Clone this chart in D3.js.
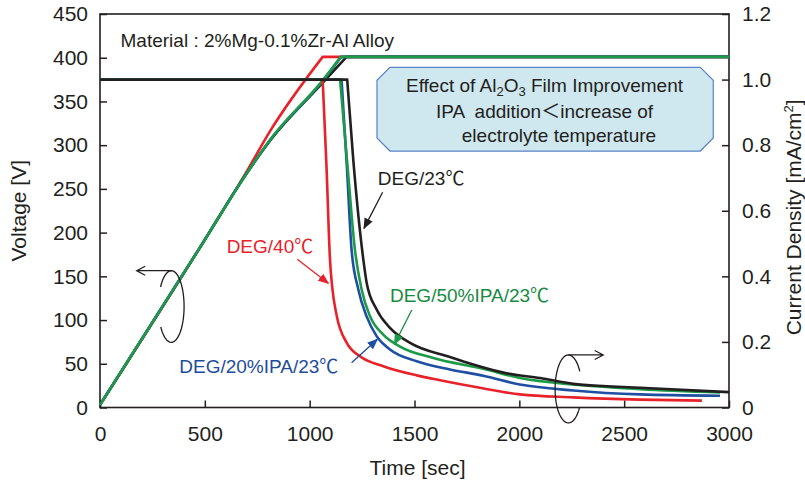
<!DOCTYPE html>
<meta charset="utf-8">
<html>
<head>
<title>Voltage and current density vs time</title>
<style>
  body { margin: 0; background: #fff; }
  text { font-family: "Liberation Sans", Arial, "Noto Sans CJK JP", sans-serif; fill: #231f20; }
</style>
</head>
<body>
<div id="chart"></div>

<script src="https://cdn.jsdelivr.net/npm/d3@7"></script>
<script>

// ---- values ----
var timeTicks = [0, 500, 1000, 1500, 2000, 2500, 3000];
var voltTicks = [0, 50, 100, 150, 200, 250, 300, 350, 400, 450];
var currTicks = [0, 0.2, 0.4, 0.6, 0.8, 1.0, 1.2];
var currTickLabels = ["0", "0.2", "0.4", "0.6", "0.8", "1.0", "1.2"];

// voltage [V] (left axis)
var voltRedT   = [0, 469, 700, 811, 1062, 3000];
var voltRedV   = [3, 180, 270, 316, 401, 401];
var voltBlackT = [0, 469, 700, 811, 1065, 1176, 3000];
var voltBlackV = [3, 180, 268, 305, 372, 401, 401];
var voltBlueT  = [0, 469, 700, 811, 1065, 1150, 3000];
var voltBlueV  = [3, 180, 268, 306, 374, 401, 401];
var voltGreenT = [0, 469, 700, 811, 1065, 1148, 3000];
var voltGreenV = [3, 180, 268, 306, 375, 401, 401];

// current density [mA/cm2] (right axis)
var currRedT   = [0, 1062, 1080, 1097, 1107, 1129, 1177, 1240, 1351, 1510, 1622, 1812, 2003, 2256, 2575, 2871];
var currRedI   = [1.0, 1.0, 0.74, 0.45, 0.37, 0.28, 0.197, 0.156, 0.126, 0.098, 0.083, 0.060, 0.040, 0.031, 0.024, 0.021];
var currBlueT  = [0, 1152, 1177, 1200, 1232, 1272, 1320, 1383, 1510, 1669, 1828, 2003, 2257, 2575, 2957];
var currBlueI  = [1.0, 1.0, 0.74, 0.48, 0.36, 0.277, 0.217, 0.177, 0.141, 0.116, 0.097, 0.070, 0.052, 0.040, 0.036];
var currGreenT = [0, 1145, 1180, 1216, 1248, 1288, 1351, 1431, 1590, 1828, 2003, 2257, 2575, 2957];
var currGreenI = [1.0, 1.0, 0.74, 0.48, 0.359, 0.278, 0.222, 0.186, 0.151, 0.118, 0.090, 0.070, 0.056, 0.046];
var currBlackT = [0, 1179, 1208, 1256, 1272, 1320, 1383, 1479, 1669, 1780, 1940, 2099, 2257, 2417, 2575, 3000];
var currBlackI = [1.0, 1.0, 0.755, 0.451, 0.38, 0.298, 0.243, 0.197, 0.154, 0.131, 0.104, 0.090, 0.072, 0.065, 0.060, 0.047];

var RED = "#e8222a", GREEN = "#1b9a48", BLUE = "#1f4fa2", BLACK = "#231f20";

var voltSeries = [
  {t: voltRedT, v: voltRedV, color: RED},
  {t: voltBlackT, v: voltBlackV, color: BLACK},
  {t: voltBlueT, v: voltBlueV, color: BLUE},
  {t: voltGreenT, v: voltGreenV, color: GREEN}
];
var currSeries = [
  {t: currRedT, v: currRedI, color: RED},
  {t: currBlueT, v: currBlueI, color: BLUE},
  {t: currGreenT, v: currGreenI, color: GREEN},
  {t: currBlackT, v: currBlackI, color: BLACK}
];

var width = 805, height = 484;

var svg = d3.select("#chart")
  .append("svg")
  .attr("width", width)
  .attr("height", height);

var x = d3.scaleLinear().domain([0, 3000]).range([100, 729]);
var yV = d3.scaleLinear().domain([0, 450]).range([407.5, 14]);
var yI = d3.scaleLinear().domain([0, 1.2]).range([407.5, 14]);

function styleAxis(g) {
  g.select(".domain").remove();
  g.selectAll("line").attr("stroke", BLACK).attr("stroke-width", 1.5);
  g.selectAll("text").style("font-size", "21px").attr("fill", BLACK);
}

// axes, ticks pointing inwards
svg.append("g")
  .attr("transform", "translate(" + x(0) + ",0)")
  .call(d3.axisLeft(yV).tickValues(voltTicks).tickSize(-7).tickPadding(12))
  .call(styleAxis);

svg.append("g")
  .attr("transform", "translate(0," + yV(0) + ")")
  .call(d3.axisBottom(x).tickValues(timeTicks).tickSize(-7).tickPadding(19)
        .tickFormat(d3.format("d")))
  .call(styleAxis);

svg.append("g")
  .attr("transform", "translate(" + x(3000) + ",0)")
  .call(d3.axisRight(yI).tickValues(currTicks).tickSize(-7).tickPadding(13)
        .tickFormat(function(d, i) { return currTickLabels[i]; }))
  .call(styleAxis);

svg.append("rect")
  .attr("x", x(0))
  .attr("y", yV(450))
  .attr("width", x(3000) - x(0))
  .attr("height", yV(0) - yV(450))
  .attr("fill", "none")
  .attr("stroke", BLACK)
  .attr("stroke-width", 1.6);

// axis titles
svg.append("text")
  .attr("transform", "translate(26," + yV(225) + ")rotate(-90)")
  .attr("text-anchor", "middle")
  .style("font-size", "21px")
  .text("Voltage [V]");

svg.append("text")
  .attr("x", x(1500) + 3)
  .attr("y", 475)
  .attr("text-anchor", "middle")
  .style("font-size", "21px")
  .text("Time [sec]");

var rt = svg.append("text")
  .attr("transform", "translate(801," + yI(0.58) + ")rotate(-90)")
  .attr("text-anchor", "middle")
  .style("font-size", "21px");
rt.append("tspan").text("Current Density [mA/cm");
rt.append("tspan").attr("dy", -8).style("font-size", "13px").text("2");
rt.append("tspan").attr("dy", 8).text("]");

// curves
var mono = d3.line()
  .x(function(d) { return d[0]; })
  .y(function(d) { return d[1]; })
  .curve(d3.curveMonotoneX);

function pts(s, yScale) {
  return s.t.map(function(t, i) { return [x(t), yScale(s.v[i])]; });
}

// voltage: bending ramp, then flat after the corner
voltSeries.forEach(function(s) {
  var p = pts(s, yV), n = p.length;
  var d = mono(p.slice(0, n - 1)) + "L" + p[n - 1][0] + "," + p[n - 1][1];
  svg.append("path")
    .attr("d", d)
    .attr("fill", "none")
    .attr("stroke", s.color)
    .attr("stroke-width", 2.6)
    .attr("stroke-linejoin", "round");
});

// current: flat at 1.0, then decay
currSeries.forEach(function(s) {
  var p = pts(s, yI);
  var d = "M" + p[0][0] + "," + p[0][1] + "L" + mono(p.slice(1)).slice(1);
  svg.append("path")
    .attr("d", d)
    .attr("fill", "none")
    .attr("stroke", s.color)
    .attr("stroke-width", 2.6)
    .attr("stroke-linejoin", "round");
});

// material label
svg.append("text")
  .attr("x", x(98))
  .attr("y", yV(412.6))
  .style("font-size", "19px")
  .text("Material : 2%Mg-0.1%Zr-Al Alloy");

// note box
var bL = x(1321), bR = x(2925), bT = yV(389), bB = yV(293.3), c = 13;
svg.append("polygon")
  .attr("points", [[bL + c, bT], [bR - c, bT], [bR, bT + c], [bR, bB - c],
                   [bR - c, bB], [bL + c, bB], [bL, bB - c], [bL, bT + c]].join(" "))
  .attr("fill", "#cfe7ee")
  .attr("stroke", "#5a83c3")
  .attr("stroke-width", 1.2);

var l1 = svg.append("text")
  .attr("x", x(2120))
  .attr("y", yV(361.2))
  .attr("text-anchor", "middle")
  .style("font-size", "19px");
l1.append("tspan").text("Effect of Al");
l1.append("tspan").attr("dy", 4).style("font-size", "13px").text("2");
l1.append("tspan").attr("dy", -4).text("O");
l1.append("tspan").attr("dy", 4).style("font-size", "13px").text("3");
l1.append("tspan").attr("dy", -4).text(" Film Improvement");

svg.append("text")
  .attr("x", x(2120))
  .attr("y", yV(330.7))
  .attr("text-anchor", "middle")
  .style("font-size", "19px")
  .style("white-space", "pre")
  .text("IPA  addition＜increase of");

svg.append("text")
  .attr("x", x(2189))
  .attr("y", yV(304))
  .attr("text-anchor", "middle")
  .style("font-size", "19px")
  .text("electrolyte temperature");

// curve labels with arrows
var defs = svg.append("defs");
[["red", RED], ["black", BLACK], ["green", GREEN], ["blue", BLUE]].forEach(function(m) {
  defs.append("marker")
    .attr("id", "head-" + m[0])
    .attr("markerUnits", "userSpaceOnUse")
    .attr("markerWidth", 11)
    .attr("markerHeight", 9)
    .attr("refX", 10)
    .attr("refY", 4.5)
    .attr("orient", "auto")
    .append("path")
    .attr("d", "M0,0L11,4.5L0,9Z")
    .attr("fill", m[1]);
});

var labels = [
  {text: "DEG/23℃", color: BLACK, id: "black", t: 1325, v: 254.4, a: [1348, 246.1, 1259, 204.9]},
  {text: "DEG/40℃", color: RED, id: "red", t: 604, v: 176.3, a: [941, 169.5, 1089, 142]},
  {text: "DEG/50%IPA/23℃", color: "#198a42", id: "green", t: 1383, v: 121, a: [1487, 111.5, 1404, 72.3]},
  {text: "DEG/20%IPA/23℃", color: "#1d4c9c", id: "blue", t: 378, v: 39.1, a: [1200, 51.2, 1323, 78]}
];

labels.forEach(function(l) {
  svg.append("text")
    .attr("x", x(l.t))
    .attr("y", yV(l.v))
    .style("font-size", "19px")
    .style("fill", l.color)
    .text(l.text);
  svg.append("line")
    .attr("x1", x(l.a[0])).attr("y1", yV(l.a[1]))
    .attr("x2", x(l.a[2])).attr("y2", yV(l.a[3]))
    .attr("stroke", l.color)
    .attr("stroke-width", 1.3)
    .attr("marker-end", "url(#head-" + l.id + ")");
});

// rotating-arrow signs pointing to each axis
function rotSign(t, v, rx, ry, a0, a1, tipT) {
  var cx = x(t), cy = yV(v), tip = x(tipT);
  var arc = d3.range(0, 61).map(function(i) {
    var a = (a0 + (a1 - a0) * i / 60) * Math.PI / 180;
    return [cx + rx * Math.cos(a), cy + ry * Math.sin(a)];
  });
  var g = svg.append("g")
    .attr("fill", "none")
    .attr("stroke", BLACK)
    .attr("stroke-width", 1.3);
  g.append("path").attr("d", d3.line()(arc));
  var dir = tip > cx ? 1 : -1, yTop = cy - ry;
  g.append("path")
    .attr("d", "M" + cx + "," + yTop + "L" + tip + "," + yTop +
               "M" + (tip - dir * 8.5) + "," + (yTop - 4.5) + "L" + tip + "," + yTop +
               "L" + (tip - dir * 8.5) + "," + (yTop + 4.5));
}

rotSign(340, 115.5, 12.8, 35.8, -147, 145, 175);
rotSign(2234, 21.2, 13.3, 34, -31, -326.4, 2400);

</script>
</body>
</html>
